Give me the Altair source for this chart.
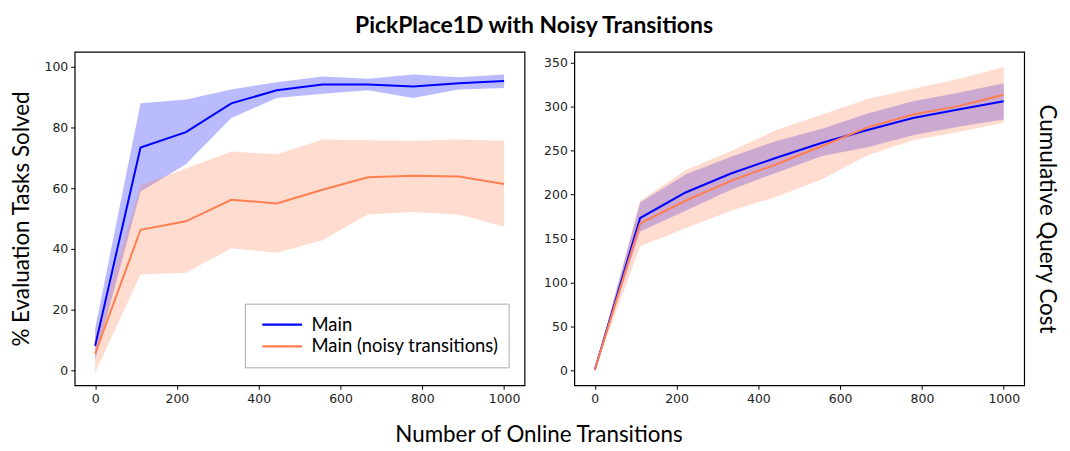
import altair as alt
import pandas as pd

x_vals = [0, 111, 222, 333, 444, 556, 667, 778, 889, 1000]
series_names = ["Main", "Main (noisy transitions)"]

# Left panel: % Evaluation Tasks Solved
solved_main = [8.0, 73.4, 78.5, 88.0, 92.3, 94.2, 94.2, 93.6, 94.6, 95.4]
solved_main_hi = [13.7, 88.0, 89.3, 92.6, 95.0, 96.9, 96.1, 97.5, 96.6, 97.5]
solved_main_lo = [3.3, 58.9, 67.9, 83.2, 89.8, 91.2, 92.3, 89.8, 92.6, 93.1]
solved_noisy = [5.4, 46.3, 49.1, 56.2, 55.0, 59.5, 63.6, 64.1, 63.9, 61.4]
solved_noisy_hi = [11.5, 61.0, 66.5, 72.1, 71.2, 76.1, 75.8, 75.7, 76.1, 75.7]
solved_noisy_lo = [-0.9, 31.5, 32.1, 40.2, 38.7, 42.8, 51.3, 52.2, 51.3, 47.4]

# Right panel: Cumulative Query Cost
cost_main = [0, 173.3, 202.4, 224.0, 242.0, 259.0, 273.6, 287.2, 297.0, 306.5]
cost_main_hi = [0, 191.0, 223.0, 243.0, 261.0, 275.0, 292.5, 306.5, 316.0, 327.0]
cost_main_lo = [0, 157.8, 181.6, 205.4, 225.0, 244.0, 254.0, 267.5, 277.3, 285.7]
cost_noisy = [0, 167.2, 193.0, 215.7, 234.6, 255.4, 276.6, 291.3, 300.8, 313.7]
cost_noisy_hi = [0, 193.0, 227.8, 249.7, 273.6, 291.3, 309.0, 320.5, 331.8, 345.4]
cost_noisy_lo = [0, 141.0, 161.6, 181.6, 197.5, 217.6, 244.8, 261.8, 271.3, 281.9]

x_ticks = [0, 200, 400, 600, 800, 1000]
left_ticks = [0, 20, 40, 60, 80, 100]
right_ticks = [0, 50, 100, 150, 200, 250, 300, 350]

FONT = "Lato"
TICKFONT = "DejaVu Sans"
colors = ["#0000ff", "#ff7f50"]


def make_df(mains, his, los):
    rows = []
    for name, m, h, l in zip(series_names, mains, his, los):
        for xv, a, b, c in zip(x_vals, m, h, l):
            rows.append({"x": xv, "series": name, "band": name + " band",
                         "mean": a, "hi": b, "lo": c})
    return pd.DataFrame(rows)


df_left = make_df([solved_main, solved_noisy], [solved_main_hi, solved_noisy_hi],
                  [solved_main_lo, solved_noisy_lo])
df_right = make_df([cost_main, cost_noisy], [cost_main_hi, cost_noisy_hi],
                   [cost_main_lo, cost_noisy_lo])

W, H = 452, 335

base_axis = dict(labelFont=TICKFONT, labelFontSize=12.5, labelColor="#222222",
                 tickColor="#000000", tickSize=4, domain=False, grid=False,
                 titleFont=FONT, titleFontSize=22.5, titleFontWeight="normal",
                 titleColor="#000000", labelPadding=3, format="d")

xscale = alt.Scale(domain=[-50, 1050], nice=False, zero=False)


def panel(df, ydomain, yaxis, legend, xaxis):
    band_scale = alt.Scale(domain=[s + " band" for s in series_names], range=colors)
    line_scale = alt.Scale(domain=series_names, range=colors)
    band = alt.Chart(df).mark_area(opacity=0.27).encode(
        x=alt.X("x:Q", scale=xscale, axis=xaxis),
        y=alt.Y("lo:Q", scale=alt.Scale(domain=ydomain, nice=False, zero=False),
                axis=yaxis),
        y2="hi:Q",
        fill=alt.Fill("band:N", scale=band_scale, legend=None),
    )
    line = alt.Chart(df).mark_line(strokeWidth=2).encode(
        x=alt.X("x:Q", scale=xscale),
        y=alt.Y("mean:Q"),
        color=alt.Color("series:N", scale=line_scale, legend=legend),
    )
    return alt.layer(band, line).properties(
        width=W, height=H,
        view=alt.ViewBackground(stroke="#000000", strokeWidth=1.2),
    )


left_x_axis = alt.Axis(values=x_ticks, title="Number of Online Transitions",
                       titleX=466, titleY=50, titleBaseline="middle", titleAlign="center",
                       **base_axis)
right_x_axis = alt.Axis(values=x_ticks, title=None, **base_axis)

left_y_axis = alt.Axis(values=left_ticks, title="% Evaluation Tasks Solved",
                       titleX=-53, titleY=H / 2, titleAngle=-90, titleAlign="center",
                       titleBaseline="middle", **base_axis)
right_y_axis = alt.Axis(values=right_ticks, title="Cumulative Query Cost",
                        titleX=W + 22, titleY=H / 2, titleAngle=90, titleAlign="center",
                        titleBaseline="middle", **base_axis)

legend = alt.Legend(title=None, orient="none", legendX=171, legendY=253,
                    symbolType="stroke", symbolSize=1600, symbolStrokeWidth=2.2,
                    labelFont=FONT, labelFontSize=18.5, labelColor="#000000",
                    strokeColor="#aaaaaa", fillColor="#ffffff", padding=10,
                    rowPadding=0, clipHeight=22, labelLimit=400, symbolOffset=6,
                    labelOffset=8)

left = panel(df_left, [-5, 105], left_y_axis, legend, left_x_axis)
right = panel(df_right, [-17.3, 362.7], right_y_axis, None, right_x_axis)

chart = alt.hconcat(left, right, spacing=50, bounds="flush").resolve_scale(
    fill="independent", color="independent"
).properties(
    title=alt.Title("PickPlace1D with Noisy Transitions", font=FONT, fontSize=23,
                    fontWeight="bold", anchor="middle", color="#000000", offset=13),
    padding={"left": 2, "top": 6, "right": 4, "bottom": 0},
).configure(background="#ffffff")

chart.save("out.html", embed_options={"renderer": "svg", "actions": False})
